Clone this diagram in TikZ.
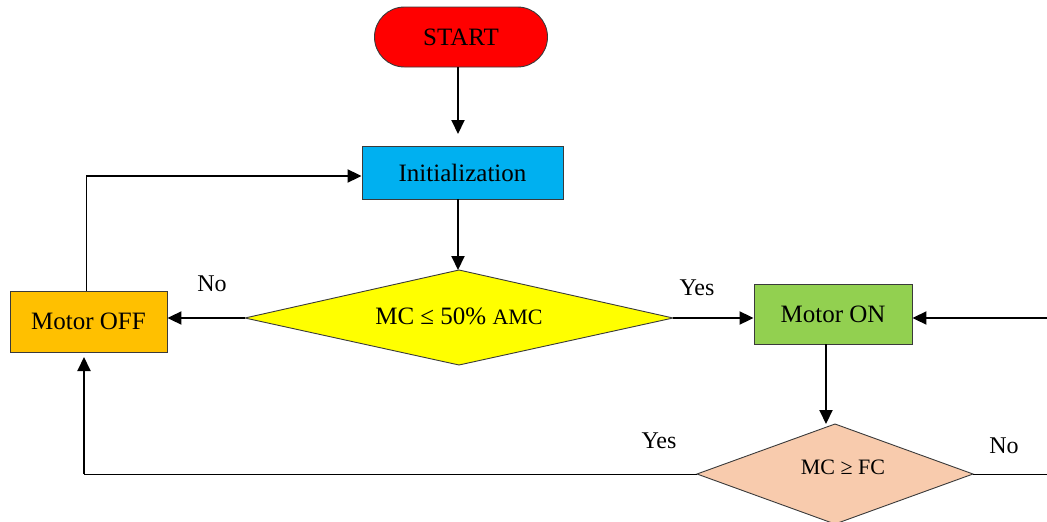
\documentclass[tikz,border=0pt]{standalone}
\usepackage{fontspec}
\setmainfont{Liberation Serif}
\usetikzlibrary{shapes.geometric,arrows.meta}
\definecolor{startred}{HTML}{FF0000}
\definecolor{initblue}{HTML}{00B0F0}
\definecolor{offorange}{HTML}{FFC000}
\definecolor{ongreen}{HTML}{92D050}
\definecolor{decpeach}{HTML}{F8CBAD}
\definecolor{decyellow}{HTML}{FFFF00}
\definecolor{edgegray}{HTML}{3A3A3A}
\tikzset{
  x=1pt,y=-1pt,
  base/.style={draw=edgegray,line width=0.9pt,inner sep=0pt,font=\fontsize{25}{30}\selectfont},
  procbox/.style={base,rectangle,minimum height=#1},
  termbox/.style={base,rectangle,rounded corners=30pt,minimum width=173pt,minimum height=60pt,fill=startred},
  flow/.style={line width=2pt,-{Triangle[length=14pt,width=13pt]}},
  thinline/.style={line width=1pt},
  lbl/.style={font=\fontsize{24}{28}\selectfont,inner sep=0pt}
}
\begin{document}
\begin{tikzpicture}
\useasboundingbox (0,0) rectangle (1047,522);
\node[termbox] (start) at (461,37) {START};
\node[procbox=53pt,minimum width=201pt,fill=initblue] (init) at (462.5,172.5) {Initialization};
\path[base,fill=decyellow] (245,318) coordinate (d1w) -- (459,270) coordinate (d1n) -- (673,318) coordinate (d1e) -- (459,365) coordinate (d1s) -- cycle;
\node[inner sep=0pt,font=\fontsize{25}{30}\selectfont] (d1) at (459,316) {MC ≤ 50\% {\fontsize{22}{26}\selectfont AMC}};
\node[procbox=61pt,minimum width=157pt,fill=offorange] (off) at (88.5,321.5) {Motor OFF};
\node[procbox=60pt,minimum width=158pt,fill=ongreen] (on) at (833,314) {Motor ON};
\path[base,fill=decpeach] (697,474) coordinate (d2w) -- (835,424) coordinate (d2n) -- (973,474) coordinate (d2e) -- (835,524) coordinate (d2s) -- cycle;
\node[inner sep=0pt,font=\fontsize{22}{26}\selectfont] (d2) at (843,467) {MC ≥ FC};
\coordinate (rin) at (1047,318);
\coordinate (rout) at (1047,474);
\coordinate (bl) at (84,474);
\coordinate (tl) at (86,176);
% connectors
\draw[flow] (start.south -| 458,0) -- (458,134);
\draw[flow] (init.south -| 458,0) -- (d1n -| 458,0);
\draw[flow] (d1w) -- (off.east |- d1w);
\draw[flow] (d1e) -- (on.west |- d1e);
\draw[flow] (rin) -- (on.east |- rin);
\draw[flow] (on.south -| 826,0) -- (d2n -| 826,0);
\draw[thinline] (d2w) -- (bl);
\draw[flow] (bl) -- (84,357);
\draw[thinline] (d2e) -- (rout);
\draw[thinline] (off.north -| tl) -- (tl);
\draw[flow] (tl) -- (init.west |- tl);
% labels
\node[lbl] (no1) at (212,284) {No};
\node[lbl] (yes1) at (697,288) {Yes};
\node[lbl] (yes2) at (659,441) {Yes};
\node[lbl] (no2) at (1004,446) {No};
\end{tikzpicture}
\end{document}
